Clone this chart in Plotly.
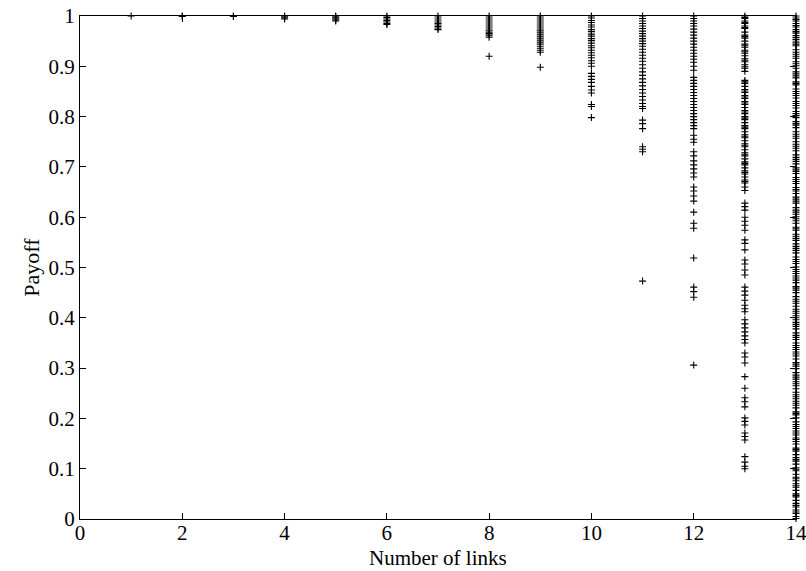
import plotly.graph_objects as go

# Number of links (x) and observed payoffs for each link count
links = list(range(1, 15))

p1 = [1.0]
p2 = [1.0, 0.999]
p3 = [1.0, 0.999]
p4 = [1.0, 0.998, 0.996, 0.994]
p5 = [1.0, 0.998, 0.996, 0.994, 0.992, 0.99]
p6 = [1.0, 0.997, 0.994, 0.991, 0.988, 0.985, 0.983]
p7 = [1.0, 0.996, 0.992, 0.988, 0.985, 0.982, 0.979, 0.976, 0.973]
p8 = [1.0, 0.996, 0.992, 0.988, 0.984, 0.98, 0.976, 0.972, 0.968, 0.965,
      0.962, 0.958, 0.92]
p9 = [1.0, 0.996, 0.992, 0.988, 0.984, 0.98, 0.976, 0.972, 0.968, 0.964,
      0.96, 0.956, 0.952, 0.948, 0.944, 0.94, 0.936, 0.932, 0.928, 0.898]
p10 = [1.0, 0.996, 0.991, 0.987, 0.982, 0.978, 0.973, 0.969, 0.964, 0.96,
       0.955, 0.951, 0.946, 0.941, 0.937, 0.932, 0.927, 0.922, 0.917, 0.911,
       0.906, 0.9, 0.886, 0.88, 0.874, 0.868, 0.86, 0.853, 0.847, 0.824,
       0.82, 0.798]
p11 = [1.0, 0.995, 0.99, 0.985, 0.98, 0.975, 0.97, 0.965, 0.96, 0.955,
       0.95, 0.945, 0.94, 0.934, 0.928, 0.922, 0.916, 0.91, 0.903, 0.896,
       0.889, 0.882, 0.875, 0.868, 0.861, 0.854, 0.847, 0.84, 0.833, 0.826,
       0.82, 0.816, 0.793, 0.786, 0.776, 0.74, 0.735, 0.73, 0.473]
p12 = [1.0, 0.995, 0.99, 0.985, 0.98, 0.974, 0.968, 0.962, 0.956, 0.95,
       0.944, 0.938, 0.932, 0.926, 0.92, 0.914, 0.908, 0.9, 0.892, 0.878,
       0.872, 0.866, 0.86, 0.854, 0.848, 0.842, 0.836, 0.83, 0.824, 0.818,
       0.812, 0.806, 0.8, 0.794, 0.788, 0.782, 0.776, 0.763, 0.755, 0.749,
       0.73, 0.722, 0.712, 0.704, 0.696, 0.688, 0.68, 0.66, 0.652, 0.642,
       0.632, 0.61, 0.588, 0.578, 0.519, 0.461, 0.452, 0.441, 0.306]
p13 = [1.0, 0.995, 0.99, 0.985, 0.98, 0.975, 0.968, 0.962, 0.956, 0.95,
       0.944, 0.938, 0.932, 0.926, 0.921, 0.915, 0.909, 0.903, 0.896, 0.89,
       0.872, 0.866, 0.86, 0.854, 0.848, 0.842, 0.836, 0.83, 0.824, 0.818,
       0.812, 0.806, 0.8, 0.794, 0.788, 0.782, 0.776, 0.77, 0.764, 0.758,
       0.752, 0.746, 0.74, 0.734, 0.728, 0.722, 0.716, 0.71, 0.704, 0.698,
       0.692, 0.686, 0.68, 0.674, 0.668, 0.66, 0.653, 0.628, 0.621, 0.614,
       0.6, 0.592, 0.584, 0.574, 0.555, 0.548, 0.535, 0.515, 0.507, 0.495,
       0.485, 0.461, 0.453, 0.445, 0.435, 0.425, 0.418, 0.412, 0.396, 0.388,
       0.38, 0.372, 0.364, 0.357, 0.35, 0.33, 0.322, 0.31, 0.283, 0.26,
       0.241, 0.233, 0.223, 0.201, 0.194, 0.187, 0.171, 0.164, 0.157, 0.124,
       0.113, 0.105, 0.1,
       0.997, 0.987, 0.977, 0.959, 0.941, 0.929, 0.912, 0.899, 0.869, 0.851,
       0.839, 0.827, 0.809, 0.797, 0.779, 0.761, 0.743, 0.725, 0.707, 0.689,
       0.671]
p14 = [1.0, 0.996, 0.99, 0.985, 0.978, 0.973, 0.966, 0.961, 0.953, 0.948,
       0.941, 0.933, 0.928, 0.92, 0.916, 0.909, 0.901, 0.896, 0.889, 0.881,
       0.877, 0.869, 0.863, 0.855, 0.85, 0.842, 0.837, 0.83, 0.822, 0.817,
       0.81, 0.802, 0.798, 0.79, 0.783, 0.778, 0.77, 0.765, 0.757, 0.75,
       0.745, 0.737, 0.732, 0.724, 0.719, 0.711, 0.706, 0.698, 0.691, 0.687,
       0.679, 0.671, 0.667, 0.659, 0.652, 0.647, 0.64, 0.632, 0.628, 0.619,
       0.614, 0.606, 0.601, 0.593, 0.588, 0.58, 0.574, 0.566, 0.562, 0.554,
       0.547, 0.542, 0.534, 0.529, 0.521, 0.516, 0.508, 0.501, 0.496, 0.488,
       0.483, 0.475, 0.47, 0.462, 0.455, 0.45, 0.442, 0.437, 0.429, 0.423,
       0.417, 0.409, 0.404, 0.396, 0.391, 0.383, 0.378, 0.37, 0.365, 0.357,
       0.35, 0.345, 0.337, 0.332, 0.324, 0.318, 0.311, 0.304, 0.299, 0.291,
       0.286, 0.278, 0.273, 0.265, 0.259, 0.252, 0.247, 0.239, 0.234, 0.226,
       0.221, 0.213, 0.207, 0.201, 0.193, 0.188, 0.18, 0.175, 0.167, 0.161,
       0.154, 0.149, 0.141, 0.135, 0.128, 0.122, 0.115, 0.109, 0.102, 0.096,
       0.089, 0.083, 0.076, 0.07, 0.063, 0.057, 0.05, 0.044, 0.037, 0.031,
       0.024, 0.018, 0.011, 0.005, 0.001,
       0.993, 0.981, 0.969, 0.957, 0.944, 0.924, 0.905, 0.885, 0.866, 0.846,
       0.826, 0.806, 0.786, 0.761, 0.741, 0.715, 0.694, 0.675, 0.655, 0.636,
       0.61, 0.597, 0.577, 0.558, 0.538, 0.512, 0.492, 0.479, 0.459, 0.433,
       0.413, 0.4, 0.387, 0.361, 0.341, 0.328, 0.308, 0.282, 0.269, 0.243,
       0.23, 0.21, 0.184, 0.171, 0.158, 0.138, 0.118, 0.099, 0.08, 0.066,
       0.047, 0.027, 0.014]

payoffs = [p1, p2, p3, p4, p5, p6, p7, p8, p9, p10, p11, p12, p13, p14]

x_ticks = [0, 2, 4, 6, 8, 10, 12, 14]
y_ticks = [0, 0.1, 0.2, 0.3, 0.4, 0.5, 0.6, 0.7, 0.8, 0.9, 1]
y_tick_text = ["0", "0.1", "0.2", "0.3", "0.4", "0.5", "0.6", "0.7", "0.8", "0.9", "1"]

xs, ys = [], []
for n, vals in zip(links, payoffs):
    xs.extend([n] * len(vals))
    ys.extend(vals)

fig = go.Figure()
fig.add_trace(go.Scatter(
    x=xs, y=ys, mode="markers",
    marker=dict(symbol="cross-thin", size=5, color="black",
                line=dict(color="black", width=1.1)),
    showlegend=False, cliponaxis=False,
))

font_family = "Liberation Serif"
axis_common = dict(
    showline=True, linecolor="black", linewidth=1, mirror="ticks",
    ticks="inside", ticklen=6, tickcolor="black", tickwidth=1,
    showgrid=False, zeroline=False, automargin=False,
    ticklabeloverflow="allow",
    tickfont=dict(family=font_family, size=21, color="black"),
)
fig.update_xaxes(range=[0, 14], tickvals=x_ticks, ticklabelstandoff=-5,
                 **axis_common)
fig.update_yaxes(range=[0, 1], tickvals=y_ticks, ticktext=y_tick_text,
                 title=dict(text="Payoff", standoff=2,
                            font=dict(family=font_family, size=22, color="black")),
                 **axis_common)

fig.add_annotation(
    text="Number of links", xref="paper", yref="paper",
    x=0.5, y=0, yshift=-52, xanchor="center", yanchor="bottom",
    showarrow=False, borderpad=0,
    font=dict(family=font_family, size=21, color="black"),
)

fig.update_layout(
    width=806, height=571,
    margin=dict(l=80, r=10, t=16, b=52),
    paper_bgcolor="white", plot_bgcolor="white",
    font=dict(family=font_family, color="black"),
)

fig.write_html("out.html")
